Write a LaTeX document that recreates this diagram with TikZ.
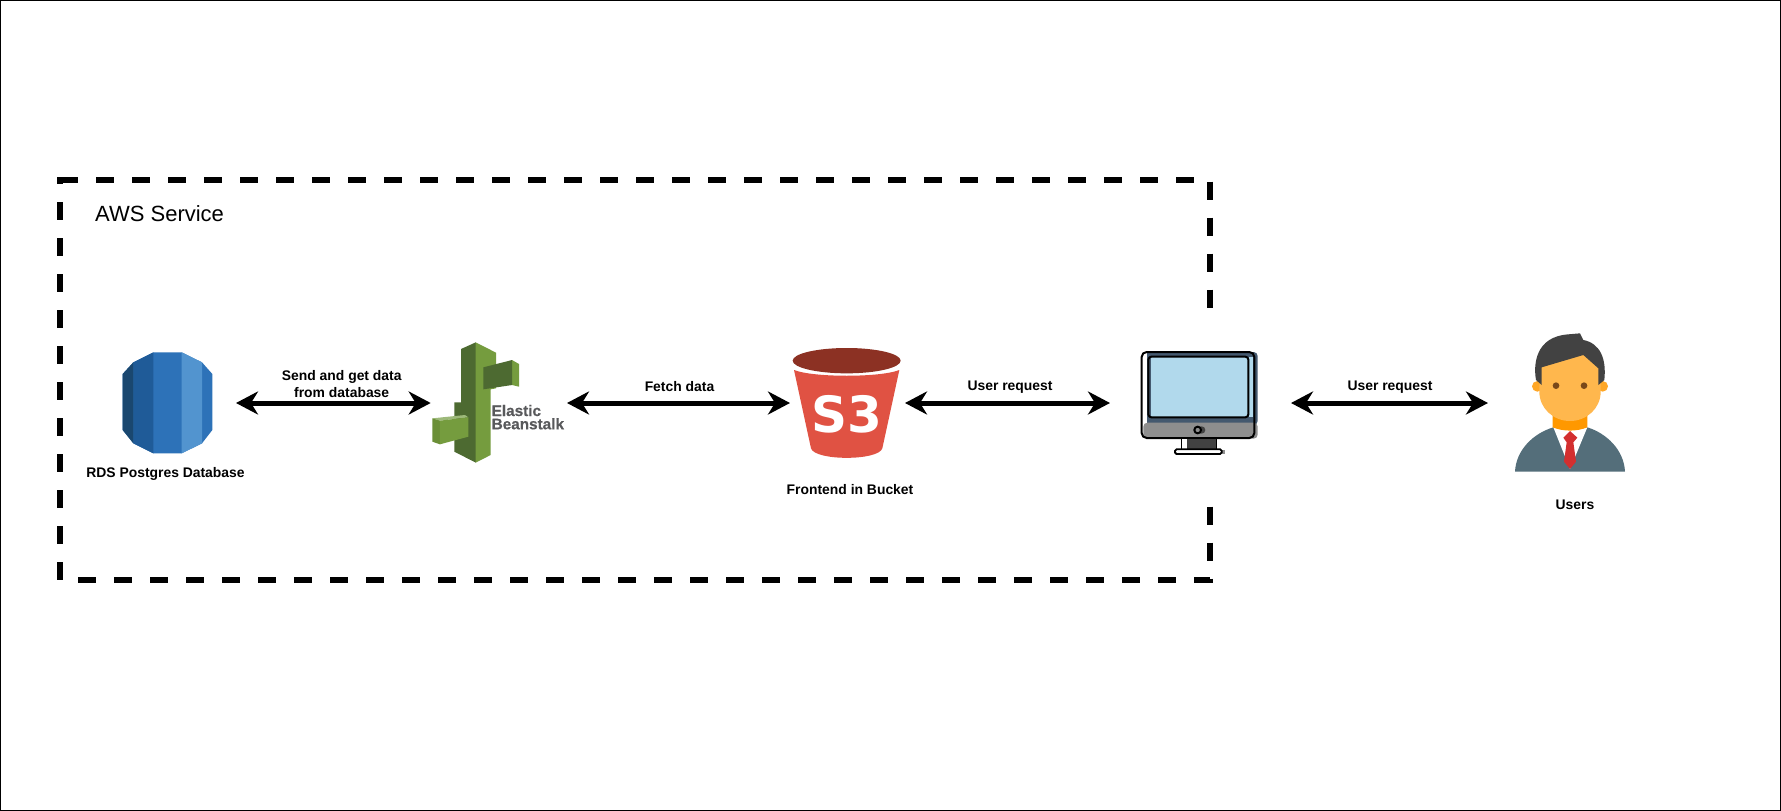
\documentclass[tikz,border=0pt]{standalone}
\usepackage{fontspec}
\setmainfont{Liberation Sans}
\newfontfamily\sthreefont{DejaVu Sans}
\newfontfamily\ebfont[UprightFont={* Bold},FakeBold=0.5]{Liberation Sans}
\usetikzlibrary{arrows.meta}
\definecolor{rdsA}{HTML}{1A476F}
\definecolor{rdsB}{HTML}{1F5B98}
\definecolor{rdsC}{HTML}{2D72B8}
\definecolor{rdsD}{HTML}{5294CF}
\definecolor{ebDark}{HTML}{4D6A31}
\definecolor{ebGreen}{HTML}{759C3E}
\definecolor{ebSide}{HTML}{6B8F37}
\definecolor{ebLight}{HTML}{9DB97A}
\definecolor{ebText}{HTML}{58595B}
\definecolor{sThree}{HTML}{E05243}
\definecolor{sThreeTop}{HTML}{8C3123}
\definecolor{pcBody}{HTML}{44596F}
\definecolor{pcGray}{HTML}{8E8E8E}
\definecolor{pcScreen}{HTML}{B1D9EC}
\definecolor{pcStand}{HTML}{424242}
\definecolor{suit}{HTML}{546E7A}
\definecolor{neck}{HTML}{FF9800}
\definecolor{tie}{HTML}{D32F2F}
\definecolor{ear}{HTML}{FFA726}
\definecolor{face}{HTML}{FFB74D}
\definecolor{hair}{HTML}{424242}
\definecolor{eye}{HTML}{784719}
\tikzset{
  anchorbox/.style={inner sep=0pt,outer sep=0pt,minimum height=100pt},
  dblarrow/.style={line width=5pt,{Stealth[length=22pt,width=23pt,inset=7pt]}-{Stealth[length=22pt,width=23pt,inset=7pt]}},
  boundary/.style={line width=6pt,dash pattern=on 18pt off 18pt,line cap=butt,miter limit=10},
  lbl/.style={inner sep=0pt,align=center,font=\fontsize{13.9}{17}\selectfont\bfseries},
  zoomed/.style n args={2}{shift={(#1,#2)},x=0.33333pt,y=-0.33333pt},
}
\begin{document}
\begin{tikzpicture}[x=1pt,y=-1pt]
\useasboundingbox (0,0) rectangle (1781,811);
\fill[white] (0,0) rectangle (1781,811);
\draw[black,line width=1pt] (0.5,0.5) rectangle (1780.5,810.5);

% AWS boundary
\coordinate (tl) at (60,180);
\coordinate (tlend) at (70,180);
\coordinate (tr) at (1210.3,180);
\coordinate (gapa) at (1210.3,308);
\coordinate (gapb) at (1210.3,506.5);
\coordinate (br) at (1210.3,580);
\coordinate (bl) at (60,580);
\draw[boundary] (tl) -- (tr) -- (gapa);
\draw[boundary] (gapb) -- (br) -- (bl) -- (tl) -- (tlend);
\node[anchor=west,inner sep=0pt,font=\fontsize{22}{26}\selectfont] (aws) at (95,214) {AWS Service};

% invisible anchors of the icons
\node[anchorbox,minimum width=113.3pt] (rds) at (179.35,403) {};
\node[anchorbox,minimum width=136.3pt] (eb) at (498.85,403) {};
\node[anchorbox,minimum width=115pt] (s3) at (847.5,403) {};
\node[anchorbox,minimum width=181pt] (pc) at (1200.5,403) {};
\node[anchorbox,minimum width=174pt] (usr) at (1575,403) {};

% RDS
\begin{scope}[zoomed={100}{330}]
\fill[rdsC] (68,132) -- (100,97) -- (160,67) -- (245,67) -- (306,97) -- (337,132)
  -- (337,300) -- (306,340) -- (245,370) -- (160,370) -- (100,340) -- (68,300) -- cycle;
\fill[rdsB] (100,97) -- (160,67) -- (160,370) -- (100,340) -- cycle;
\fill[rdsA] (68,132) -- (100,97) -- (100,340) -- (68,300) -- cycle;
\fill[rdsD] (245,67) -- (306,97) -- (306,340) -- (245,370) -- cycle;
\end{scope}

% Elastic Beanstalk
\begin{scope}[zoomed={420}{330}]
\fill[ebDark] (103,217) -- (123,217) -- (123,57) -- (167.5,37) -- (167.5,398) -- (103,365) -- cycle;
\fill[ebGreen] (167,37) -- (228,68) -- (228,175) -- (212,178) -- (212,375) -- (167,398) -- cycle;
\fill[ebGreen] (276,90) -- (297,102) -- (297,170) -- (276,165) -- cycle;
\fill[ebDark] (190,112) -- (276.5,90) -- (276.5,165) -- (190,178) -- cycle;
\fill[ebLight] (37,265) -- (135,255) -- (145,262) -- (60,272) -- cycle;
\fill[ebSide] (37,265) -- (60,272) -- (60,343) -- (37,335) -- cycle;
\fill[ebGreen] (59.5,272) -- (145,262) -- (145,320) -- (59.5,343) -- cycle;
\end{scope}
\node[anchor=base west,inner sep=0pt,text=ebText,align=left,font=\fontsize{15.3}{13.3}\ebfont] (ebtxt) at (491.5,429.3) {Elastic\\Beanstalk};

% S3
\begin{scope}[zoomed={780}{335}]
\fill[sThreeTop] (200,77) ellipse [x radius=162,y radius=38];
\fill[sThree] (42,105) .. controls (100,128) and (300,128) .. (358,105) -- (307,340)
  .. controls (295,378) and (105,378) .. (93,340) -- cycle;
\end{scope}
\node[text=white,inner sep=0pt,font=\fontsize{50}{50}\sthreefont\bfseries] (s3txt) at (846.7,414) {S3};

% Computer
\begin{scope}[zoomed={1125}{340}]
\fill[pcBody,rounded corners=4pt] (60,36) rectangle (398,255);
\fill[pcGray,rounded corners=4pt] (55,248) rectangle (398,296);
\fill[white] (52,40) rectangle (65,248);
\fill[pcScreen] (372,50) rectangle (385,232);
\fill[pcScreen] (70,50) rectangle (370,232);
\fill[pcBody] (70,52) rectangle (79,230);
\draw[black,line width=2pt,rounded corners=3pt] (70,50) rectangle (370,232);
\draw[black,line width=2pt,rounded corners=5pt] (50,36) rectangle (388,294);
\fill[pcStand] (170,296) rectangle (275,326);
\fill[white] (172,296) rectangle (187,326);
\draw[black,line width=1.6pt] (170,296) -- (170,326) (275,296) -- (275,326);
\fill[pcGray] (240,331) rectangle (300,343);
\draw[black,fill=white,line width=1.8pt,rounded corners=1.5pt] (150,328) rectangle (290,342);
\fill[pcStand] (230,270) circle [radius=11];
\draw[black,fill=pcGray,line width=2pt] (218,270) circle [radius=10];
\end{scope}

% User
\begin{scope}[zoomed={1500}{325}]
\fill[suit] (45,440) .. controls (48,375) and (100,325) .. (160,307) -- (262,307)
  .. controls (320,325) and (372,375) .. (375,440) -- cycle;
\fill[white] (160,307) -- (262,307) -- (210,432) -- cycle;
\fill[neck] (158,262) -- (262,262) -- (262,307) .. controls (230,320) and (190,320) .. (158,307) -- cycle;
\fill[tie] (210,318) -- (232,338) -- (220,352) -- (228,410) -- (210,432) -- (192,410) -- (200,352) -- (190,338) -- cycle;
\fill[ear] (112,184) circle [radius=16];
\fill[ear] (308,184) circle [radius=16];
\fill[face] (118,90) -- (302,90) -- (302,200)
  .. controls (302,250) and (260,288) .. (210,288)
  .. controls (160,288) and (118,250) .. (118,200) -- cycle;
\fill[hair] (125,180) -- (108,165) .. controls (100,120) and (105,35) .. (205,28)
  -- (240,25) -- (250,45) .. controls (300,55) and (320,100) .. (313,165)
  -- (295,180) -- (295,130) -- (250,90) -- (125,127) -- cycle;
\fill[eye] (168,182) circle [radius=10];
\fill[eye] (252,182) circle [radius=10];
\end{scope}

% Connectors
\draw[dblarrow] (rds.east) -- (eb.west);
\draw[dblarrow] (eb.east) -- (s3.west);
\draw[dblarrow] (s3.east) -- (pc.west);
\draw[dblarrow] (pc.east) -- (usr.west);

% Labels
\node[lbl] (l1) at (165.5,473.5) {RDS Postgres Database};
\node[lbl] (l2) at (341.7,384.5) {Send and get data\\from database};
\node[lbl] (l3) at (679.5,387) {Fetch data};
\node[lbl] (l4) at (1010,387) {User request};
\node[lbl] (l5) at (1390,387) {User request};
\node[lbl] (l6) at (850,489.5) {Frontend in Bucket};
\node[lbl] (l7) at (1575,505) {Users};
\end{tikzpicture}
\end{document}
